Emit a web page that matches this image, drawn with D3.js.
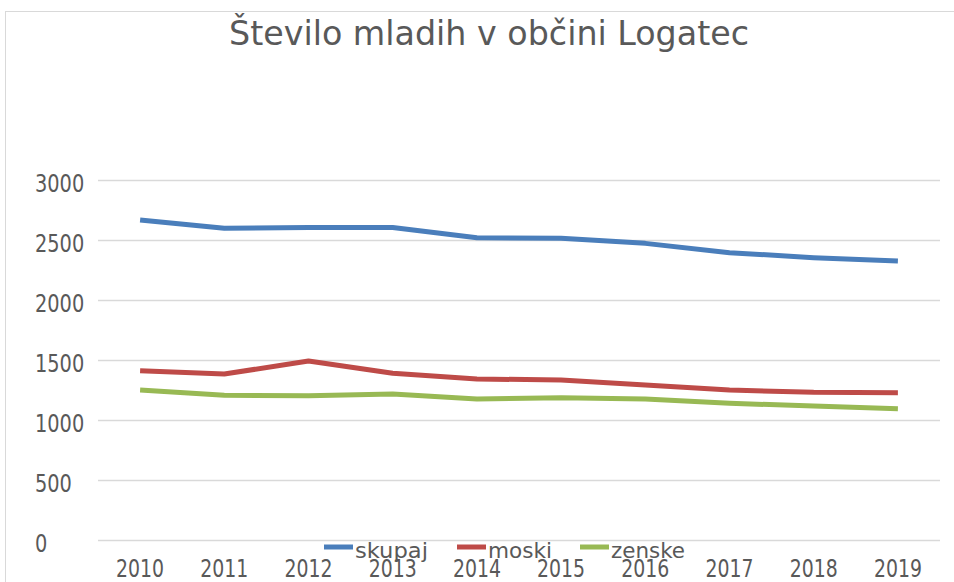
<!DOCTYPE html>
<html><head><meta charset="utf-8">
<script src="https://cdn.jsdelivr.net/npm/d3@7"></script>
<style>body{margin:0;background:#fff;} text{font-family:"DejaVu Sans Condensed","DejaVu Sans",sans-serif;}</style>
</head><body>
<svg id="c" width="954" height="582"></svg>
<script>
const years = ["2010","2011","2012","2013","2014","2015","2016","2017","2018","2019"];
const skupaj = [2667,2597,2605,2605,2519,2515,2472,2394,2353,2325];
const moski  = [1411,1383,1492,1389,1342,1333,1292,1250,1231,1228];
const zenske = [1250,1206,1203,1217,1175,1186,1175,1139,1117,1094];
const yTicks = [0,500,1000,1500,2000,2500,3000];
const seriesNames = ["skupaj","moski","zenske"];
const colors = ["#4a7ebb","#be4b48","#98b954"];
const series = [skupaj, moski, zenske];

const svg = d3.select("#c");
svg.append("rect").attr("x",5.5).attr("y",11.5).attr("width",960).attr("height",600)
  .attr("fill","#fff").attr("stroke","#d9d9d9");

const x = d3.scaleBand().domain(years).range([98,940]);
const y = d3.scaleLinear().domain([0,3000]).range([540,180]);

svg.append("text").attr("x",489).attr("y",45).attr("text-anchor","middle")
  .attr("font-family","'DejaVu Sans',sans-serif")
  .attr("font-size",34).attr("fill","#595959")
  .attr("textLength",520).attr("lengthAdjust","spacingAndGlyphs")
  .text("Število mladih v občini Logatec");

svg.append("g").selectAll("line").data(yTicks).join("line")
  .attr("x1",98).attr("x2",940).attr("y1",d=>y(d)+0.5).attr("y2",d=>y(d)+0.5)
  .attr("stroke","#d9d9d9").attr("stroke-width",1.5);

const yAxis = svg.append("g").attr("transform","translate(35,0)")
  .call(d3.axisLeft(y).tickValues(yTicks).tickSize(0).tickPadding(0).tickFormat(d3.format("d")));
yAxis.select(".domain").remove();
yAxis.selectAll("text").attr("font-size",24).attr("fill","#595959").attr("font-family",null)
  .attr("text-anchor","start").attr("x",0).attr("dy",null).attr("y",11)
  .attr("textLength",function(d){return String(d).length*12.3;}).attr("lengthAdjust","spacingAndGlyphs");

const xAxis = svg.append("g").attr("transform","translate(0,0)")
  .call(d3.axisBottom(x).tickSize(0).tickPadding(0));
xAxis.select(".domain").remove();
xAxis.selectAll("text").attr("font-size",24).attr("fill","#595959").attr("font-family",null)
  .attr("dy",null).attr("y",577)
  .attr("textLength",48).attr("lengthAdjust","spacingAndGlyphs");

const line = d3.line().x((d,i)=>x(years[i])+x.bandwidth()/2).y(d=>y(d));
series.forEach((s,k)=>{
  svg.append("path").datum(s).attr("d",line).attr("fill","none")
    .attr("stroke",colors[k]).attr("stroke-width",5).attr("stroke-linejoin","round");
});

const legX = [324,457,580];
const legW = [73,64,74];
const lg = svg.append("g");
seriesNames.forEach((n,k)=>{
  lg.append("line").attr("x1",legX[k]).attr("x2",legX[k]+29).attr("y1",547).attr("y2",547)
    .attr("stroke",colors[k]).attr("stroke-width",5);
  lg.append("text").attr("x",legX[k]+31).attr("y",558).attr("font-size",21).attr("fill","#595959")
    .attr("textLength",legW[k]).attr("lengthAdjust","spacingAndGlyphs").text(n);
});
</script>
</body></html>
